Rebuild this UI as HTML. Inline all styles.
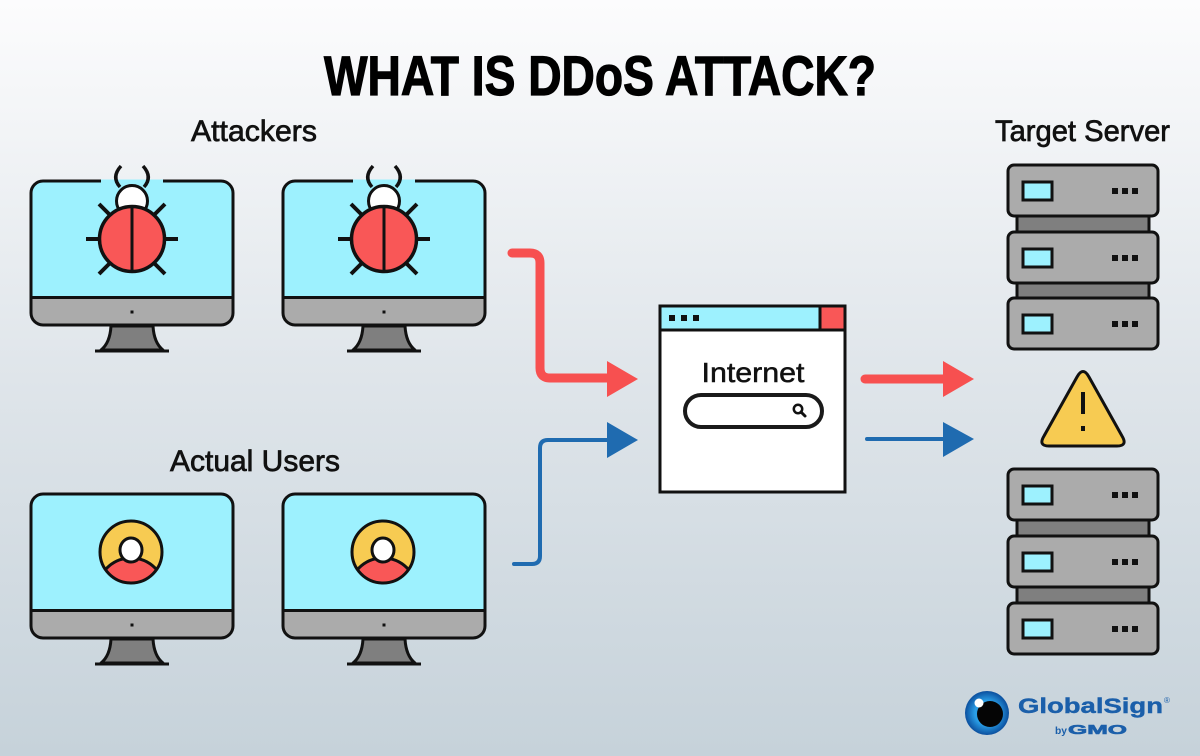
<!DOCTYPE html>
<html><head><meta charset="utf-8"><style>
html,body{margin:0;padding:0;width:1200px;height:756px;overflow:hidden;}
svg{display:block;}
</style></head><body>
<svg xmlns="http://www.w3.org/2000/svg" width="1200" height="756" viewBox="0 0 1200 756">
<defs>
<linearGradient id="bg" x1="0" y1="0" x2="0" y2="1">
<stop offset="0" stop-color="#fcfcfd"/>
<stop offset="0.5" stop-color="#dfe5ea"/>
<stop offset="1" stop-color="#c6d2da"/>
</linearGradient>
<radialGradient id="eye" cx="0.5" cy="0.5" r="0.5">
<stop offset="0.55" stop-color="#2a9ee6"/>
<stop offset="1" stop-color="#0b4f9e"/>
</radialGradient>
<g id="monitor">
<path d="M31,297 L31,193 Q31,181 43,181 L221,181 Q233,181 233,193 L233,297 Z" fill="#9df1fe"/>
<path d="M31,297 L233,297 L233,313 Q233,325 221,325 L43,325 Q31,325 31,313 Z" fill="#ababab"/>
<rect x="31" y="181" width="202" height="144" rx="12" fill="none" stroke="#111" stroke-width="3"/>
<line x1="31" y1="297.5" x2="233" y2="297.5" stroke="#111" stroke-width="3"/>
<rect x="130.5" y="310.5" width="3" height="3" fill="#111"/>
<path d="M111,326 Q110,343 101,350 L163,350 Q154,343 153,326 Z" fill="#7f7f7f" stroke="#111" stroke-width="3" stroke-linejoin="round"/>
<line x1="95" y1="351" x2="169" y2="351" stroke="#111" stroke-width="3"/>
</g>
<g id="bug">
<g stroke="#111" stroke-width="4" fill="none">
<line x1="-46" y1="0" x2="-31" y2="0"/>
<line x1="31" y1="0" x2="46" y2="0"/>
<line x1="-33" y1="-35" x2="-22" y2="-24"/>
<line x1="33" y1="-35" x2="22" y2="-24"/>
<line x1="-33" y1="35" x2="-22" y2="24"/>
<line x1="33" y1="35" x2="22" y2="24"/>
<path d="M-12,-52 Q-21,-62 -11,-73" stroke-width="3.5"/>
<path d="M12,-52 Q21,-62 11,-73" stroke-width="3.5"/>
</g>
<circle cx="0" cy="-38" r="15.5" fill="#fff" stroke="#111" stroke-width="3"/>
<circle cx="0" cy="0" r="32.5" fill="#f95757" stroke="#111" stroke-width="3.5"/>
<line x1="0" y1="-32" x2="0" y2="32" stroke="#111" stroke-width="3"/>
</g>
<clipPath id="uc"><circle cx="0" cy="0" r="31"/></clipPath>
<g id="user">
<circle cx="0" cy="0" r="31" fill="#f7cb52"/>
<circle cx="0" cy="40" r="34" fill="#f95757" stroke="#111" stroke-width="3" clip-path="url(#uc)"/>
<circle cx="0" cy="0" r="31" fill="none" stroke="#111" stroke-width="3"/>
<ellipse cx="0" cy="-2" rx="11" ry="12" fill="#fff" stroke="#111" stroke-width="3"/>
</g>
<g id="unit">
<rect x="1008" y="0" width="150" height="51" rx="6" fill="#ababab" stroke="#111" stroke-width="3"/>
<rect x="1023" y="17" width="29" height="18" fill="#9df1fe" stroke="#111" stroke-width="3"/>
<rect x="1112" y="23" width="6" height="6" fill="#111"/>
<rect x="1122" y="23" width="6" height="6" fill="#111"/>
<rect x="1132" y="23" width="6" height="6" fill="#111"/>
</g>
</defs>

<rect width="1200" height="756" fill="url(#bg)"/>

<!-- title -->
<text x="600" y="95" text-anchor="middle" font-family="Liberation Sans, sans-serif" font-weight="bold" font-size="56" textLength="552" lengthAdjust="spacingAndGlyphs" fill="#000" stroke="#000" stroke-width="1.2">WHAT IS DDoS ATTACK?</text>

<!-- labels -->
<g font-family="Liberation Sans, sans-serif" font-size="30" fill="#111" stroke="#111" stroke-width="0.7">
<text x="191" y="141" textLength="126" lengthAdjust="spacingAndGlyphs">Attackers</text>
<text x="170" y="471" textLength="170" lengthAdjust="spacingAndGlyphs">Actual Users</text>
<text x="995" y="141" textLength="175" lengthAdjust="spacingAndGlyphs">Target Server</text>
</g>

<!-- attacker monitors -->
<use href="#monitor"/>
<rect x="101" y="179.5" width="62" height="3.5" fill="#9df1fe"/>
<use href="#bug" transform="translate(132,239)"/>
<use href="#monitor" transform="translate(252,0)"/>
<rect x="353" y="179.5" width="62" height="3.5" fill="#9df1fe"/>
<use href="#bug" transform="translate(384,239)"/>

<!-- user monitors -->
<use href="#monitor" transform="translate(0,313)"/>
<use href="#user" transform="translate(131,552)"/>
<use href="#monitor" transform="translate(252,313)"/>
<use href="#user" transform="translate(383,552)"/>

<!-- left arrows -->
<path d="M512,253 L530,253 Q540,253 540,263 L540,368 Q540,378 550,378 L610,378" fill="none" stroke="#f75050" stroke-width="9" stroke-linecap="round"/>
<polygon points="607,361 638,379 607,397" fill="#f75050"/>
<path d="M514,564 L532,564 Q540,564 540,556 L540,448 Q540,440 548,440 L610,440" fill="none" stroke="#1f6bb0" stroke-width="4" stroke-linecap="round"/>
<polygon points="607,422 638,440 607,458" fill="#1f6bb0"/>

<!-- internet window -->
<rect x="660" y="306" width="185" height="186" fill="#fff"/>
<rect x="660" y="306" width="185" height="24" fill="#9df1fe"/>
<rect x="820" y="306" width="25" height="24" fill="#f95757"/>
<line x1="820" y1="306" x2="820" y2="330" stroke="#111" stroke-width="3"/>
<line x1="660" y1="330" x2="845" y2="330" stroke="#111" stroke-width="3"/>
<rect x="660" y="306" width="185" height="186" fill="none" stroke="#111" stroke-width="3"/>
<rect x="669" y="315" width="6" height="6" fill="#111"/>
<rect x="681" y="315" width="6" height="6" fill="#111"/>
<rect x="693" y="315" width="6" height="6" fill="#111"/>
<text x="753" y="382" text-anchor="middle" font-family="Liberation Sans, sans-serif" font-size="28" fill="#111" stroke="#111" stroke-width="0.5" textLength="103" lengthAdjust="spacingAndGlyphs">Internet</text>
<rect x="685" y="395" width="137" height="32" rx="16" fill="#fff" stroke="#1a1a1a" stroke-width="4"/>
<circle cx="798" cy="409" r="4.2" fill="none" stroke="#111" stroke-width="2.5"/>
<line x1="801" y1="412" x2="805" y2="416" stroke="#111" stroke-width="3" stroke-linecap="round"/>

<!-- right arrows -->
<path d="M865,379 L946,379" stroke="#f75050" stroke-width="9" stroke-linecap="round"/>
<polygon points="943,361 974,379 943,397" fill="#f75050"/>
<path d="M867,439 L946,439" stroke="#1f6bb0" stroke-width="4" stroke-linecap="round"/>
<polygon points="943,422 974,439 943,457" fill="#1f6bb0"/>

<!-- servers top -->
<rect x="1017" y="210" width="132" height="95" fill="#7f7f7f" stroke="#111" stroke-width="3"/>
<use href="#unit" transform="translate(0,165)"/>
<use href="#unit" transform="translate(0,232)"/>
<use href="#unit" transform="translate(0,298)"/>

<!-- servers bottom -->
<rect x="1017" y="514" width="132" height="95" fill="#7f7f7f" stroke="#111" stroke-width="3"/>
<use href="#unit" transform="translate(0,469)"/>
<use href="#unit" transform="translate(0,536)"/>
<use href="#unit" transform="translate(0,603)"/>

<!-- warning -->
<path d="M1077,377 Q1083,366 1089,377 L1122,436 Q1128,446 1117,446 L1049,446 Q1038,446 1044,436 Z" fill="#f7cb52" stroke="#111" stroke-width="3" stroke-linejoin="round"/>
<line x1="1083" y1="392" x2="1083" y2="414" stroke="#111" stroke-width="4"/>
<rect x="1081" y="426" width="4" height="5" fill="#111"/>

<!-- logo -->
<circle cx="987" cy="713" r="22" fill="url(#eye)"/>
<circle cx="990" cy="714" r="13" fill="#050505"/>
<circle cx="979" cy="703" r="4.5" fill="#fff"/>
<text x="1018" y="713" font-family="Liberation Sans, sans-serif" font-weight="bold" font-size="21" fill="#1b5faa" stroke="#1b5faa" stroke-width="0.4" textLength="145" lengthAdjust="spacingAndGlyphs">GlobalSign</text>
<text x="1164" y="703" font-family="Liberation Sans, sans-serif" font-size="8" fill="#1b5faa">®</text>
<text x="1055" y="734" font-family="Liberation Sans, sans-serif" font-weight="bold" font-size="10" fill="#1b5faa" textLength="12" lengthAdjust="spacingAndGlyphs">by</text>
<text x="1068" y="734" font-family="Liberation Sans, sans-serif" font-weight="bold" font-size="13" fill="#1b5faa" stroke="#1b5faa" stroke-width="0.6" textLength="59" lengthAdjust="spacingAndGlyphs">GMO</text>
</svg>
</body></html>
